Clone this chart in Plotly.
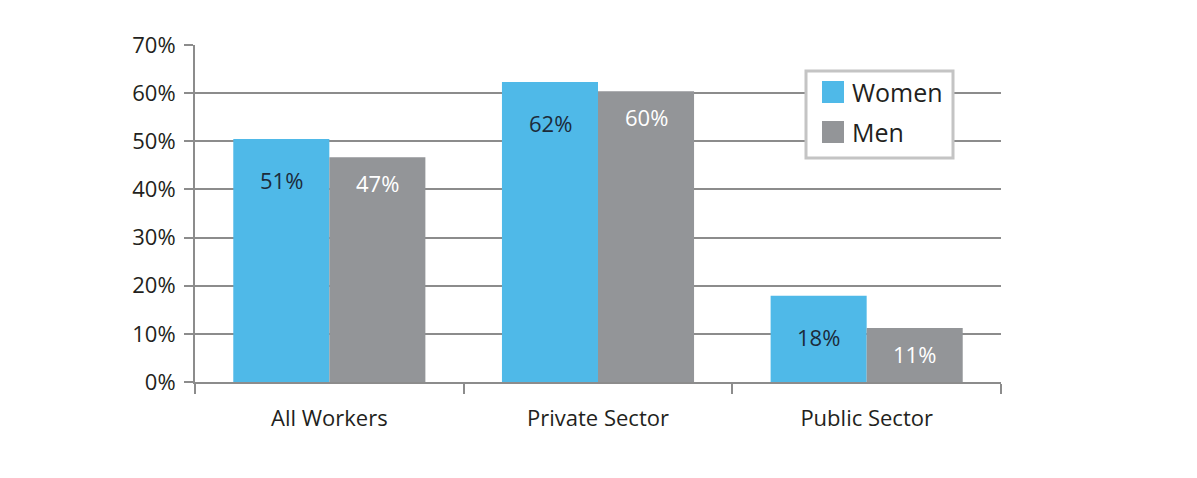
import plotly.graph_objects as go

categories = ["All Workers", "Private Sector", "Public Sector"]
women = [50.5, 62.3, 17.9]
men = [46.7, 60.4, 11.2]
women_labels = ["51%", "62%", "18%"]
men_labels = ["47%", "60%", "11%"]
y_ticks = [0, 10, 20, 30, 40, 50, 60, 70]
y_tick_labels = ["0%", "10%", "20%", "30%", "40%", "50%", "60%", "70%"]
legend_names = ["Women", "Men"]

BLUE = "#4FB9E8"
GRAY = "#939598"
LINE = "#8c8c8c"
TEXT = "#231f20"
FONT = "Open Sans"

# plot area in screen pixels (for placing the hand-drawn legend)
PX0, PX1, PY0, PY1 = 195, 1001, 45, 382


def px(x):
    return (x - PX0) / (PX1 - PX0)


def py(y):
    return (PY1 - y) / (PY1 - PY0)


fig = go.Figure()
fig.add_trace(go.Bar(x=categories, y=women, name="Women", marker_color=BLUE,
                     marker_line_width=0, showlegend=False))
fig.add_trace(go.Bar(x=categories, y=men, name="Men", marker_color=GRAY,
                     marker_line_width=0, showlegend=False))

for c, v, t in zip(categories, women, women_labels):
    fig.add_annotation(x=c, y=v, text=t, showarrow=False, xshift=-48, yshift=-41,
                       font=dict(family=FONT, size=22, color="#1c2b3a"))
for c, v, t in zip(categories, men, men_labels):
    fig.add_annotation(x=c, y=v, text=t, showarrow=False, xshift=48, yshift=-26,
                       font=dict(family=FONT, size=22, color="white"))

# legend box
fig.add_shape(type="rect", xref="paper", yref="paper",
              x0=px(806), x1=px(953), y0=py(158), y1=py(71),
              line=dict(color="#c4c4c4", width=3), fillcolor="white", layer="above")
for i, (name, col) in enumerate(zip(legend_names, [BLUE, GRAY])):
    top = 81 + 40 * i
    fig.add_shape(type="rect", xref="paper", yref="paper",
                  x0=px(822), x1=px(844), y0=py(top + 22), y1=py(top),
                  line=dict(width=0), fillcolor=col, layer="above")
    fig.add_annotation(xref="paper", yref="paper", x=px(850), y=py(top + 11),
                       xanchor="left", yanchor="middle", showarrow=False,
                       text=name, font=dict(family=FONT, size=25, color=TEXT))

fig.update_layout(
    width=1189, height=470,
    margin=dict(l=187, r=196, t=37, b=96),
    paper_bgcolor="white", plot_bgcolor="white",
    barmode="group", bargap=0.285, bargroupgap=0,
    showlegend=False,
    font=dict(family=FONT, size=22, color=TEXT),
    xaxis=dict(showline=True, linecolor=LINE, linewidth=2,
               ticks="outside", tickson="boundaries", ticklen=10,
               tickcolor=LINE, tickwidth=2, ticklabelstandoff=16,
               tickfont=dict(family=FONT, size=22, color=TEXT),
               showgrid=False),
    yaxis=dict(range=[0, 70], tickvals=y_ticks, ticktext=y_tick_labels,
               showline=True, linecolor=LINE, linewidth=2,
               ticks="outside", ticklen=9, tickcolor=LINE, tickwidth=2,
               ticklabelstandoff=4,
               showgrid=True, gridcolor=LINE, gridwidth=1.5,
               zeroline=False,
               tickfont=dict(family=FONT, size=22, color=TEXT)),
)

fig.write_html("out.html")
